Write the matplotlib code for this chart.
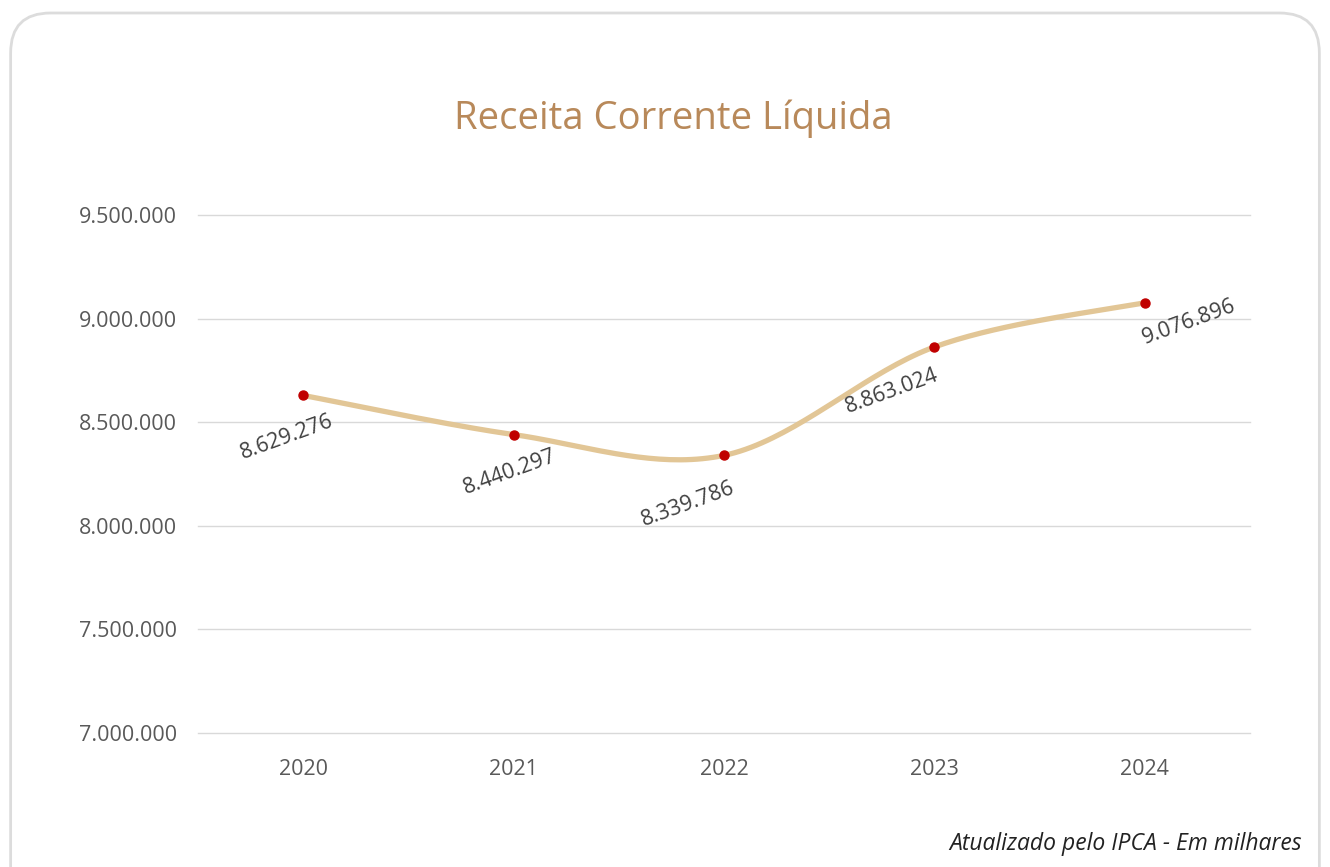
#bibliotecas
import numpy as np
import matplotlib.pyplot as plt
from matplotlib.patches import FancyBboxPatch

#dados do grafico
anos = ['2020', '2021', '2022', '2023', '2024']
receita = [8629276, 8440297, 8339786, 8863024, 9076896]
yticks = [7000000, 7500000, 8000000, 8500000, 9000000, 9500000]

#deslocamento dos rotulos (pontos)
desloc = [(-12, -30), (-3, -27), (-26, -35), (-31, -32), (32, -14)]

def fmt(v):
    return f'{v:,}'.replace(',', '.')

plt.rcParams['font.family'] = ['Open Sans', 'DejaVu Sans']

fig = plt.figure(figsize=(13.3, 8.67), dpi=100)

#moldura arredondada
moldura = FancyBboxPatch((0.008, -0.05), 0.984, 1.035, boxstyle='round,pad=0,rounding_size=0.03',
                         transform=fig.transFigure, fc='none', ec='#dcdcdc', lw=2,
                         mutation_aspect=1330 / 867, zorder=-1)
fig.patches.append(moldura)

ax = fig.add_axes([0.1489, 0.1546, 0.7909, 0.5974])
ax.set_facecolor('none')
x = np.arange(len(anos))
ax.set_xlim(-0.5, len(anos) - 0.5)
ax.set_ylim(yticks[0], yticks[-1])
ax.set_yticks(yticks)
ax.set_yticklabels([fmt(v) for v in yticks])
ax.set_xticks(x)
ax.set_xticklabels(anos)
ax.tick_params(length=0, labelsize=15.5, labelcolor='#595959', pad=19)
ax.tick_params(axis='y', pad=15)
ax.grid(axis='y', color='#d9d9d9', lw=1)
ax.set_axisbelow(True)
for s in ax.spines.values():
    s.set_visible(False)
for g in ax.get_ygridlines():
    g.set_clip_on(False)

#linha suavizada (catmull-rom em coordenadas de tela, como o excel)
fig.canvas.draw()
pts = ax.transData.transform(np.column_stack([x, receita]))
P = np.vstack([pts[0], pts, pts[-1]])
curva = []
t = np.linspace(0, 1, 40)[:, None]
for i in range(1, len(P) - 2):
    p0, p1, p2, p3 = P[i - 1], P[i], P[i + 1], P[i + 2]
    c1 = p1 + (p2 - p0) / 6
    c2 = p2 - (p3 - p1) / 6
    seg = ((1 - t) ** 3) * p1 + 3 * ((1 - t) ** 2) * t * c1 + 3 * (1 - t) * t ** 2 * c2 + t ** 3 * p2
    curva.append(seg)
curva = ax.transData.inverted().transform(np.vstack(curva))
ax.plot(curva[:, 0], curva[:, 1], color='#e2c696', lw=3.8, solid_capstyle='round', zorder=3)
ax.plot(x, receita, 'o', color='#c00000', ms=6.5, zorder=4)

for xi, v, d in zip(x, receita, desloc):
    ax.annotate(fmt(v), (xi, v), xytext=d, textcoords='offset points', ha='center', va='center',
                rotation=20, fontsize=15.5, color='#404040', zorder=5)

fig.text(0.506, 0.863, 'Receita Corrente Líquida', ha='center', va='center', fontsize=27.5,
         color='#b8895a')
fig.text(0.979, 0.026, 'Atualizado pelo IPCA - Em milhares', ha='right', va='center', fontsize=16.5,
         style='italic', color='#222222')

fig.savefig('out.png', dpi=100)
